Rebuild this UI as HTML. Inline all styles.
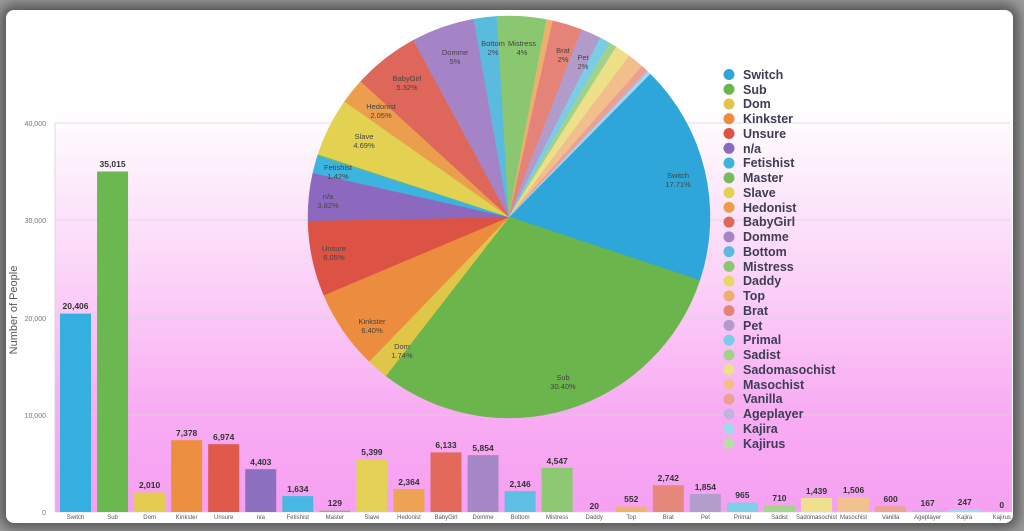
<!DOCTYPE html>
<html><head><meta charset="utf-8"><style>
html,body{margin:0;padding:0;width:1024px;height:531px;overflow:hidden;background:#9c9c9c;}
#card{position:absolute;left:6px;top:10px;width:1007px;height:513px;border-radius:8px;background:#fff;
box-shadow:0 0 12px 6px rgba(40,40,40,.6);}
svg{position:absolute;left:0;top:0;}
text{font-family:"Liberation Sans",sans-serif;}
.v{font-size:8.5px;font-weight:bold;fill:#333;text-anchor:middle;}
.x{font-size:6px;fill:#555;text-anchor:middle;}
.y{font-size:7px;fill:#777;text-anchor:end;}
.p{font-size:7.5px;fill:#444;text-anchor:middle;}
.l{font-size:12.5px;font-weight:bold;fill:#3d3d55;}
</style></head><body>
<div id="card"></div>
<svg width="1024" height="531" viewBox="0 0 1024 531">
<defs><linearGradient id="pk" x1="0" y1="0" x2="0" y2="1">
<stop offset="0" stop-color="#ffffff"/><stop offset="0.12" stop-color="#fdf2fc"/>
<stop offset="0.45" stop-color="#fbcff7"/><stop offset="0.75" stop-color="#f8acf3"/><stop offset="1" stop-color="#f6a0f2"/>
</linearGradient></defs>
<rect x="55" y="110" width="957" height="402" fill="url(#pk)"/>
<g stroke="#d8d0d8" stroke-width="0.8">
<line x1="55" y1="123" x2="1010" y2="123"/><line x1="55" y1="220" x2="1010" y2="220"/>
<line x1="55" y1="318" x2="1010" y2="318"/><line x1="55" y1="415" x2="1010" y2="415"/>
<line x1="55" y1="512" x2="1010" y2="512"/><line x1="55" y1="123" x2="55" y2="512"/>
</g>
<text class="y" x="46" y="126">40,000</text><text class="y" x="46" y="223">30,000</text>
<text class="y" x="46" y="321">20,000</text><text class="y" x="46" y="418">10,000</text>
<text class="y" x="46" y="515">0</text>
<text x="17" y="310" transform="rotate(-90 17 310)" style="font-size:11px;fill:#555;text-anchor:middle">Number of People</text>

<g transform="translate(75.5,0)"><rect x="-15.5" y="313.6" width="31" height="198.4" fill="#35aee0"/><text class="v" x="0" y="309">20,406</text><text class="x" x="0" y="519">Switch</text></g>
<g transform="translate(112.55,0)"><rect x="-15.5" y="171.5" width="31" height="340.5" fill="#6cb850"/><text class="v" x="0" y="167">35,015</text><text class="x" x="0" y="519">Sub</text></g>
<g transform="translate(149.6,0)"><rect x="-15.5" y="492.5" width="31" height="19.5" fill="#e3cc50"/><text class="v" x="0" y="488">2,010</text><text class="x" x="0" y="519">Dom</text></g>
<g transform="translate(186.65,0)"><rect x="-15.5" y="440.2" width="31" height="71.8" fill="#ec9040"/><text class="v" x="0" y="436">7,378</text><text class="x" x="0" y="519">Kinkster</text></g>
<g transform="translate(223.7,0)"><rect x="-15.5" y="444.2" width="31" height="67.8" fill="#df5a4a"/><text class="v" x="0" y="440">6,974</text><text class="x" x="0" y="519">Unsure</text></g>
<g transform="translate(260.75,0)"><rect x="-15.5" y="469.2" width="31" height="42.8" fill="#8e70c0"/><text class="v" x="0" y="465">4,403</text><text class="x" x="0" y="519">n/a</text></g>
<g transform="translate(297.8,0)"><rect x="-15.5" y="496.1" width="31" height="15.9" fill="#48b8e2"/><text class="v" x="0" y="492">1,634</text><text class="x" x="0" y="519">Fetishist</text></g>
<g transform="translate(334.85,0)"><rect x="-15.5" y="510.7" width="31" height="1.3" fill="#7cbe60"/><text class="v" x="0" y="506">129</text><text class="x" x="0" y="519">Master</text></g>
<g transform="translate(371.9,0)"><rect x="-15.5" y="459.5" width="31" height="52.5" fill="#e4d258"/><text class="v" x="0" y="455">5,399</text><text class="x" x="0" y="519">Slave</text></g>
<g transform="translate(408.95,0)"><rect x="-15.5" y="489" width="31" height="23" fill="#eda352"/><text class="v" x="0" y="485">2,364</text><text class="x" x="0" y="519">Hedonist</text></g>
<g transform="translate(446,0)"><rect x="-15.5" y="452.4" width="31" height="59.6" fill="#e2695c"/><text class="v" x="0" y="448">6,133</text><text class="x" x="0" y="519">BabyGirl</text></g>
<g transform="translate(483.05,0)"><rect x="-15.5" y="455.1" width="31" height="56.9" fill="#a688c8"/><text class="v" x="0" y="451">5,854</text><text class="x" x="0" y="519">Domme</text></g>
<g transform="translate(520.1,0)"><rect x="-15.5" y="491.1" width="31" height="20.9" fill="#5fbfe2"/><text class="v" x="0" y="487">2,146</text><text class="x" x="0" y="519">Bottom</text></g>
<g transform="translate(557.15,0)"><rect x="-15.5" y="467.8" width="31" height="44.2" fill="#8ec873"/><text class="v" x="0" y="464">4,547</text><text class="x" x="0" y="519">Mistress</text></g>
<g transform="translate(594.2,0)"><rect x="-15.5" y="511.6" width="31" height="0.4" fill="#e9d86c"/><text class="v" x="0" y="509">20</text><text class="x" x="0" y="519">Daddy</text></g>
<g transform="translate(631.25,0)"><rect x="-15.5" y="506.6" width="31" height="5.4" fill="#f0b272"/><text class="v" x="0" y="502">552</text><text class="x" x="0" y="519">Top</text></g>
<g transform="translate(668.3,0)"><rect x="-15.5" y="485.3" width="31" height="26.7" fill="#e6887a"/><text class="v" x="0" y="481">2,742</text><text class="x" x="0" y="519">Brat</text></g>
<g transform="translate(705.35,0)"><rect x="-15.5" y="494" width="31" height="18" fill="#b39dcc"/><text class="v" x="0" y="490">1,854</text><text class="x" x="0" y="519">Pet</text></g>
<g transform="translate(742.4,0)"><rect x="-15.5" y="502.6" width="31" height="9.4" fill="#80cfe8"/><text class="v" x="0" y="498">965</text><text class="x" x="0" y="519">Primal</text></g>
<g transform="translate(779.45,0)"><rect x="-15.5" y="505.1" width="31" height="6.9" fill="#a6d48e"/><text class="v" x="0" y="501">710</text><text class="x" x="0" y="519">Sadist</text></g>
<g transform="translate(816.5,0)"><rect x="-15.5" y="498" width="31" height="14" fill="#eee08c"/><text class="v" x="0" y="494">1,439</text><text class="x" x="0" y="519">Sadomasochist</text></g>
<g transform="translate(853.55,0)"><rect x="-15.5" y="497.4" width="31" height="14.6" fill="#f2c190"/><text class="v" x="0" y="493">1,506</text><text class="x" x="0" y="519">Masochist</text></g>
<g transform="translate(890.6,0)"><rect x="-15.5" y="506.2" width="31" height="5.8" fill="#eca496"/><text class="v" x="0" y="502">600</text><text class="x" x="0" y="519">Vanilla</text></g>
<g transform="translate(927.65,0)"><rect x="-15.5" y="510.4" width="31" height="1.6" fill="#c4b5dc"/><text class="v" x="0" y="506">167</text><text class="x" x="0" y="519">Ageplayer</text></g>
<g transform="translate(964.7,0)"><rect x="-15.5" y="509.6" width="31" height="2.4" fill="#a0dcef"/><text class="v" x="0" y="505">247</text><text class="x" x="0" y="519">Kajira</text></g>
<g transform="translate(1001.75,0)"><text class="v" x="0" y="508">0</text><text class="x" x="0" y="519">Kajirus</text></g>

<g id="pie"></g>
<text class="p" x="678" y="178">Switch</text><text class="p" x="678" y="187">17.71%</text>
<text class="p" x="563" y="380">Sub</text><text class="p" x="563" y="389">30.40%</text>
<text class="p" x="402" y="349">Dom</text><text class="p" x="402" y="358">1.74%</text>
<text class="p" x="372" y="324">Kinkster</text><text class="p" x="372" y="333">6.40%</text>
<text class="p" x="334" y="251">Unsure</text><text class="p" x="334" y="260">6.05%</text>
<text class="p" x="328" y="199">n/a</text><text class="p" x="328" y="208">3.82%</text>
<text class="p" x="338" y="170">Fetishist</text><text class="p" x="338" y="179">1.42%</text>
<text class="p" x="364" y="139">Slave</text><text class="p" x="364" y="148">4.69%</text>
<text class="p" x="381" y="109">Hedonist</text><text class="p" x="381" y="118">2.05%</text>
<text class="p" x="407" y="81">BabyGirl</text><text class="p" x="407" y="90">5.32%</text>
<text class="p" x="455" y="55">Domme</text><text class="p" x="455" y="64">5%</text>
<text class="p" x="493" y="46">Bottom</text><text class="p" x="493" y="55">2%</text>
<text class="p" x="522" y="46">Mistress</text><text class="p" x="522" y="55">4%</text>
<text class="p" x="563" y="53">Brat</text><text class="p" x="563" y="62">2%</text>
<text class="p" x="583" y="60">Pet</text><text class="p" x="583" y="69">2%</text>

<g id="leg"></g>
<g class="l">
<text class="l" x="743" y="79">Switch</text><text class="l" x="743" y="94">Sub</text><text class="l" x="743" y="108">Dom</text>
<text class="l" x="743" y="123">Kinkster</text><text class="l" x="743" y="138">Unsure</text><text class="l" x="743" y="153">n/a</text>
<text class="l" x="743" y="167">Fetishist</text><text class="l" x="743" y="182">Master</text><text class="l" x="743" y="197">Slave</text>
<text class="l" x="743" y="212">Hedonist</text><text class="l" x="743" y="226">BabyGirl</text><text class="l" x="743" y="241">Domme</text>
<text class="l" x="743" y="256">Bottom</text><text class="l" x="743" y="271">Mistress</text><text class="l" x="743" y="285">Daddy</text>
<text class="l" x="743" y="300">Top</text><text class="l" x="743" y="315">Brat</text><text class="l" x="743" y="330">Pet</text>
<text class="l" x="743" y="344">Primal</text><text class="l" x="743" y="359">Sadist</text><text class="l" x="743" y="374">Sadomasochist</text>
<text class="l" x="743" y="389">Masochist</text><text class="l" x="743" y="403">Vanilla</text><text class="l" x="743" y="418">Ageplayer</text>
<text class="l" x="743" y="433">Kajira</text><text class="l" x="743" y="448">Kajirus</text>
</g>
</svg>
<script>
var v=[20406,35015,2010,7378,6974,4403,1634,129,5399,2364,6133,5854,2146,4547,20,552,2742,1854,965,710,1439,1506,600,167,247,0];
var c=["#2ea6d9","#6ab64d","#e0c648","#ec8c3e","#dc5245","#8c69be","#3db3df","#77bc5c","#e3d152","#eb9e4e","#df665a","#a484c6","#5bbbdf","#8bc770","#e8d668","#efae6e","#e58378","#b29acb","#7bcce5","#a2d28a","#ede088","#f1be8c","#eba092","#c3b3db","#9edbee","#b7dea5"];
var T=0;v.forEach(function(a){T+=a});
var cx=509,cy=217,r=201,a=44.6*Math.PI/180,ns="http://www.w3.org/2000/svg";
var pie=document.getElementById("pie"),leg=document.getElementById("leg");
for(var i=0;i<v.length;i++){
 var d=v[i]/T*2*Math.PI;
 if(d>0){var b=a+d;
 var x1=cx+r*Math.sin(a),y1=cy-r*Math.cos(a),x2=cx+r*Math.sin(b),y2=cy-r*Math.cos(b);
 var p=document.createElementNS(ns,"path");
 p.setAttribute("d","M"+cx+","+cy+"L"+x1+","+y1+"A"+r+","+r+" 0 "+(d>Math.PI?1:0)+" 1 "+x2+","+y2+"Z");
 p.setAttribute("fill",c[i]);p.setAttribute("stroke",c[i]);p.setAttribute("stroke-width","0.5");pie.appendChild(p);a=b;}
 var ci=document.createElementNS(ns,"circle");
 ci.setAttribute("cx",729);ci.setAttribute("cy",74.5+i*14.76);ci.setAttribute("r",5.5);ci.setAttribute("fill",c[i]);leg.appendChild(ci);
}
</script>
</body></html>
